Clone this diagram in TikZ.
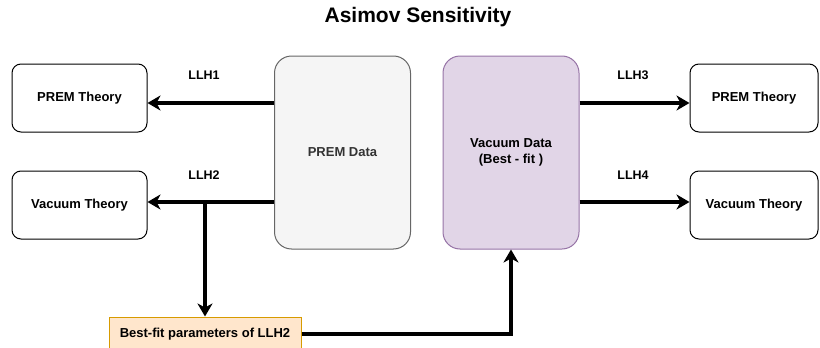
\documentclass[tikz,border=0pt]{standalone}
\usepackage{fontspec}
\setmainfont{Liberation Sans}
\usetikzlibrary{arrows.meta}
\definecolor{premfill}{HTML}{F5F5F5}
\definecolor{premline}{HTML}{666666}
\definecolor{premtext}{HTML}{333333}
\definecolor{vacfill}{HTML}{E1D5E7}
\definecolor{vacline}{HTML}{9673A6}
\definecolor{fitfill}{HTML}{FFE6CC}
\definecolor{fitline}{HTML}{D79B00}

\begin{document}
\begin{tikzpicture}[x=1pt,y=-1pt,
        theory/.style={draw,line width=1pt,rounded corners=9pt,minimum width=135pt,minimum height=68pt,inner sep=0pt,font=\fontsize{13}{15}\selectfont\bfseries},
        datbox/.style={draw,line width=1pt,rounded corners=17pt,minimum width=136pt,minimum height=193pt,inner sep=0pt,align=center,font=\fontsize{13}{16}\selectfont\bfseries},
        llh/.style={font=\fontsize{12.5}{14}\selectfont\bfseries},
        arr/.style={line width=3.2pt,-{Stealth[length=13pt,width=15pt,inset=4pt]}}]
        \useasboundingbox (0,0) rectangle (820,348);
        \node[font=\fontsize{21}{24}\selectfont\bfseries] (title) at (418,17) {Asimov Sensitivity};
        
        \node[theory] (ptl) at (79.5,98) {PREM Theory};
        \node[theory] (vtl) at (79.5,205) {Vacuum Theory};
        \node[datbox,fill=premfill,draw=premline,text=premtext] (pd) at (342.5,152.5) {PREM Data};
        \node[datbox,fill=vacfill,draw=vacline] (vd) at (511,152.5) {Vacuum Data\\(Best - fit )};
        \node[theory,minimum width=128pt] (ptr) at (754,98) {PREM Theory};
        \node[theory,minimum width=128pt] (vtr) at (754,205) {Vacuum Theory};
        \node[draw=fitline,fill=fitfill,line width=1pt,minimum width=192pt,minimum height=34pt,inner sep=0pt,font=\fontsize{13}{15}\selectfont\bfseries] (bf) at (205,334) {Best-fit parameters of LLH2};
        
        \node[llh] (l1) at (204,75) {LLH1};
        \node[llh] (l2) at (204,175) {LLH2};
        \node[llh] (l3) at (633,75) {LLH3};
        \node[llh] (l4) at (633,175) {LLH4};
        
        \draw[arr] ([yshift=49.5pt]pd.west) -- ([yshift=49.5pt]pd.west -| ptl.east);
        \draw[arr] ([yshift=-49.5pt]pd.west) -- ([yshift=-49.5pt]pd.west -| vtl.east);
        \draw[arr] ([yshift=49.5pt]vd.east) -- ([yshift=49.5pt]vd.east -| ptr.west);
        \draw[arr] ([yshift=-49.5pt]vd.east) -- ([yshift=-49.5pt]vd.east -| vtr.west);
        
        \coordinate (split) at (bf.north |- 0,202);
        \draw[arr] (split) -- (bf.north);
        \draw[arr,rounded corners=0pt] (bf.east) -| (vd.south);
    \end{tikzpicture}
\end{document}
